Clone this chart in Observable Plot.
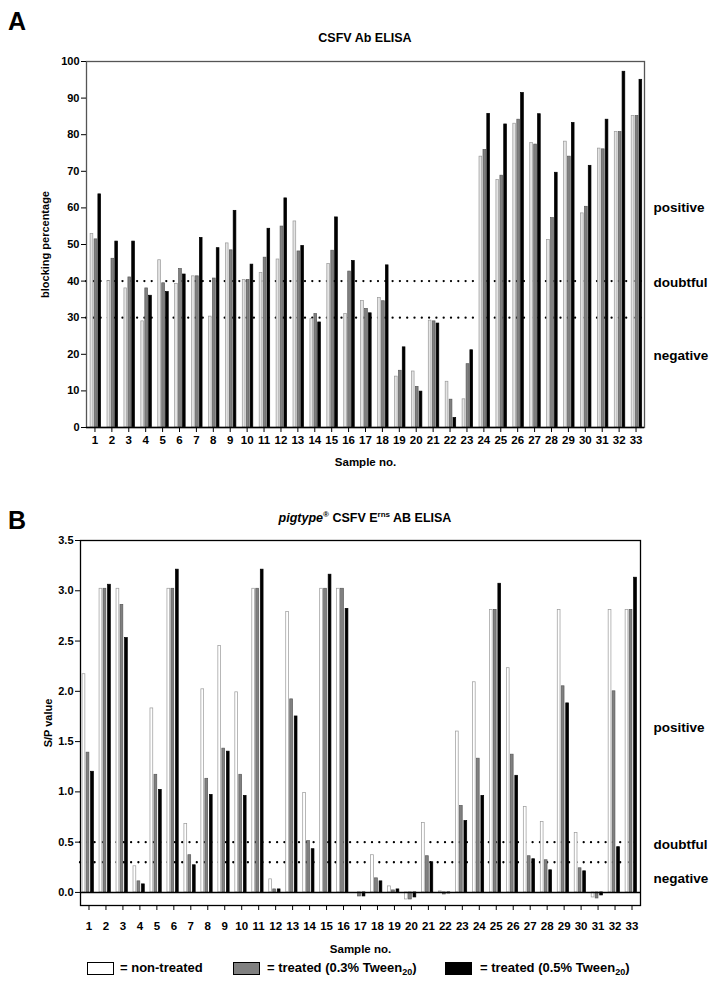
<!DOCTYPE html>
<html>
<head>
<meta charset="utf-8">
<script src="https://cdn.jsdelivr.net/npm/d3@7"></script>
<script src="https://cdn.jsdelivr.net/npm/@observablehq/plot@0.6"></script>
<style>
  body { margin: 0; background: #fff; font-family: "Liberation Sans", Arial, sans-serif; }
  #root { position: relative; width: 720px; height: 987px; overflow: hidden; }
  .abs { position: absolute; }
  .panel { font-weight: bold; font-size: 25px; line-height: 28px; }
  .title { font-weight: bold; font-size: 12.5px; line-height: 16px; text-align: center; width: 730px; left: 0; }
  .title sup { font-size: 8px; vertical-align: 5px; line-height: 0; }
  .leg { font-weight: bold; font-size: 13px; line-height: 16px; }
  .box { width: 25px; height: 11px; border: 1.5px solid #000; }
  .leg sub { font-size: 9px; vertical-align: -3px; line-height: 0; }
</style>
</head>
<body>
<div id="root">
  <div class="abs panel" style="left:8px; top:7px;">A</div>
  <div class="abs title" style="top:30px;">CSFV Ab ELISA</div>
  <div id="chartA" class="abs" style="left:0; top:50px;"></div>
  <div class="abs panel" style="left:8px; top:506px;">B</div>
  <div class="abs title" style="top:510px;"><i>pigtype</i><sup>®</sup> CSFV E<sup>rns</sup> AB ELISA</div>
  <div id="chartB" class="abs" style="left:0; top:528px;"></div>
  <div class="abs box" style="left:87px; top:962px; background:#fff;"></div>
  <div class="abs leg" style="left:120px; top:960px;">= non-treated</div>
  <div class="abs box" style="left:233px; top:962px; background:#808080;"></div>
  <div class="abs leg" style="left:267px; top:960px;">= treated (0.3% Tween<sub>20</sub>)</div>
  <div class="abs box" style="left:445px; top:962px; background:#000;"></div>
  <div class="abs leg" style="left:480px; top:960px;">= treated (0.5% Tween<sub>20</sub>)</div>
</div>
<script>
const samples = ["1","2","3","4","5","6","7","8","9","10","11","12","13","14","15","16","17","18","19","20","21","22","23","24","25","26","27","28","29","30","31","32","33"];

// Panel A: CSFV Ab ELISA, blocking percentage
const aNonTreated = [52.9, 40.0, 38.0, 29.0, 45.7, 39.2, 41.3, 30.3, 50.3, 40.3, 42.2, 45.9, 56.3, 29.6, 44.7, 31.0, 34.6, 35.4, 13.9, 15.3, 29.2, 12.5, 7.7, 74.0, 67.6, 83.0, 77.7, 51.2, 78.1, 58.5, 76.2, 80.7, 85.1];
const aTween03 = [51.4, 46.1, 41.0, 38.0, 39.4, 43.3, 41.3, 40.7, 48.4, 40.3, 46.4, 54.9, 48.1, 31.0, 48.3, 42.6, 32.4, 34.5, 15.5, 11.1, 29.0, 7.6, 17.3, 75.8, 68.8, 84.1, 77.3, 57.2, 74.0, 60.3, 76.0, 80.7, 85.1];
const aTween05 = [63.7, 50.8, 50.8, 36.0, 37.0, 41.8, 51.8, 49.0, 59.2, 44.5, 54.3, 62.6, 49.6, 28.7, 57.4, 45.5, 31.2, 44.3, 21.9, 9.8, 28.4, 2.6, 21.1, 85.7, 82.8, 91.4, 85.6, 69.6, 83.2, 71.5, 84.1, 97.2, 95.0];
const aCutoffs = [30, 40];
const aTicks = [0, 10, 20, 30, 40, 50, 60, 70, 80, 90, 100];
const aZoneLabels = ["positive", "doubtful", "negative"];
const aZoneY = [60, 39.7, 19.5];

// Panel B: pigtype CSFV Erns AB ELISA, S/P value
const bNonTreated = [2.17, 3.02, 3.02, 0.26, 1.83, 3.02, 0.68, 2.02, 2.45, 1.99, 3.02, 0.13, 2.79, 0.99, 3.02, 3.02, 0.00, 0.37, 0.06, -0.07, 0.69, 0.01, 1.60, 2.09, 2.81, 2.23, 0.85, 0.70, 2.81, 0.59, -0.05, 2.81, 2.81];
const bTween03 = [1.39, 3.02, 2.86, 0.11, 1.17, 3.02, 0.37, 1.13, 1.43, 1.17, 3.02, 0.03, 1.92, 0.51, 3.02, 3.02, -0.04, 0.14, 0.02, -0.07, 0.36, -0.02, 0.86, 1.33, 2.81, 1.37, 0.36, 0.32, 2.05, 0.24, -0.06, 2.00, 2.81];
const bTween05 = [1.20, 3.06, 2.53, 0.08, 1.02, 3.21, 0.27, 0.97, 1.40, 0.96, 3.21, 0.03, 1.75, 0.43, 3.16, 2.82, -0.04, 0.11, 0.03, -0.05, 0.30, -0.01, 0.71, 0.96, 3.07, 1.16, 0.33, 0.22, 1.88, 0.21, -0.03, 0.45, 3.13];
const bCutoffs = [0.3, 0.5];
const bTicks = [0, 0.5, 1.0, 1.5, 2.0, 2.5, 3.0, 3.5];
const bZoneLabels = ["positive", "doubtful", "negative"];
const bZoneY = [1.64, 0.47, 0.14];

const FONT = "Liberation Sans, Arial, sans-serif";

function bars(values, dx, fill, stroke, inset) {
  return Plot.barY(samples, {
    x: d => d, y: (d, i) => values[i],
    fill, stroke, strokeWidth: 0.7,
    insetLeft: inset, insetRight: inset, dx
  });
}

function panel(cfg) {
  return Plot.plot({
    width: 720, height: cfg.height,
    marginTop: cfg.mt, marginBottom: cfg.mb, marginLeft: cfg.ml, marginRight: cfg.mr,
    style: { fontFamily: FONT, fontWeight: "bold", fontSize: "11px", color: "#000", background: "transparent" },
    x: { type: "band", domain: samples, padding: 0 },
    y: { domain: cfg.yDomain },
    marks: [
      Plot.ruleY(cfg.cutoffs, { stroke: "#000", strokeWidth: 2.3, strokeDasharray: "0,7.3", strokeLinecap: "round" }),
      bars(cfg.non, cfg.dx[0], cfg.whiteFill, "#999", 7.1),
      bars(cfg.t03, cfg.dx[1], "#808080", "#5a5a5a", 7.1),
      bars(cfg.t05, cfg.dx[2], "#000", "#000", 7.1),
      Plot.frame({ stroke: cfg.frameStroke, strokeWidth: 1.3 }),
      Plot.ruleY([0], { stroke: "#000", strokeWidth: 1.5 }),
      Plot.axisY({ ticks: cfg.ticks, tickFormat: cfg.tickFormat, tickSize: 5, tickPadding: 2, fontSize: 11, fontWeight: "bold",
        label: cfg.yLabel, labelAnchor: "center", labelOffset: cfg.ylo, labelArrow: "none" }),
      Plot.axisX({ tickSize: 5, tickPadding: cfg.xtp, fontSize: 11.5, fontWeight: "bold",
        label: "Sample no.", labelAnchor: "center", labelOffset: cfg.xlo, labelArrow: "none" }),
      Plot.text(cfg.zoneLabels, { y: (d, i) => cfg.zoneY[i], text: d => d, frameAnchor: "right", dx: cfg.zdx,
        textAnchor: "start", fontSize: 13.5, fontWeight: "bold", fill: "#000" })
    ]
  });
}

const chartA = panel({
  height: 420, mt: 11, mb: 43, ml: 86, mr: 76,
  yDomain: [0, 100], ticks: aTicks, tickFormat: d => d, yLabel: "blocking percentage", ylo: 45,
  cutoffs: aCutoffs, non: aNonTreated, t03: aTween03, t05: aTween05,
  dx: [-3, 1, 4.8], whiteFill: "#e4e4e4", frameStroke: "#555", xtp: 3, xlo: 38,
  zoneLabels: aZoneLabels, zoneY: aZoneY, zdx: 9
});
document.getElementById("chartA").appendChild(chartA);

const chartB = panel({
  height: 432, mt: 12, mb: 55, ml: 80, mr: 80,
  yDomain: [-0.13, 3.5], ticks: bTicks, tickFormat: d3.format(".1f"), yLabel: "S/P value", ylo: 36,
  cutoffs: bCutoffs, non: bNonTreated, t03: bTween03, t05: bTween05,
  dx: [-5, -1, 3.5], whiteFill: "#fff", frameStroke: "#000", xtp: 11, xlo: 47,
  zoneLabels: bZoneLabels, zoneY: bZoneY, zdx: 13
});
document.getElementById("chartB").appendChild(chartB);
</script>
</body>
</html>
